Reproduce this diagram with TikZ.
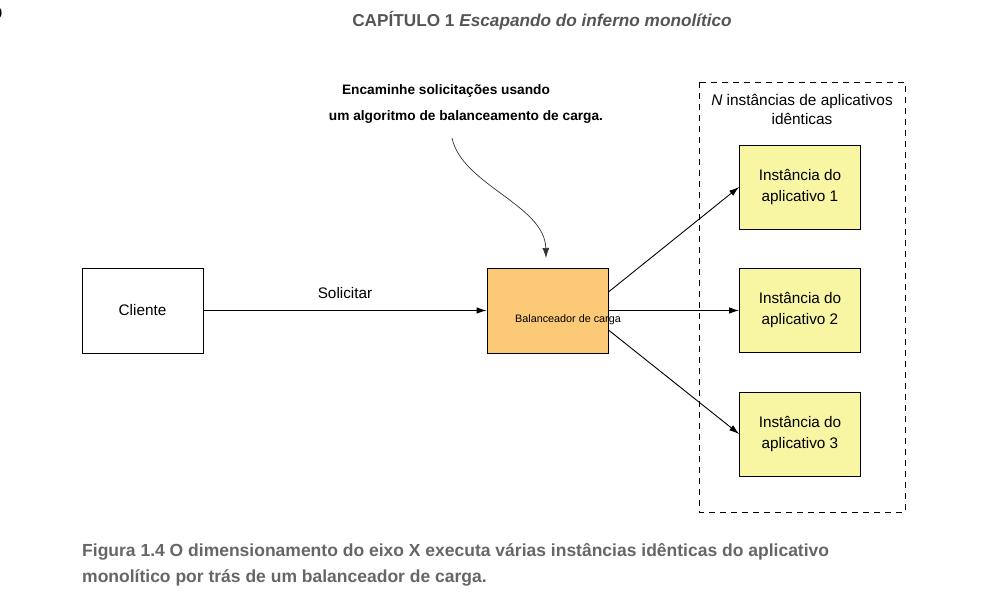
\documentclass[tikz,border=0pt]{standalone}
\usepackage{fontspec}
\setmainfont{Liberation Sans}
\usetikzlibrary{arrows.meta}
\definecolor{lbfill}{HTML}{FCC977}
\definecolor{appfill}{HTML}{F8F5A3}
\definecolor{captxt}{HTML}{666666}
\definecolor{headtxt}{HTML}{555555}
\tikzset{
  box/.style={draw=black, line width=0.9pt, minimum width=121pt, minimum height=85pt, inner sep=0pt, align=center, font=\fontsize{15.3}{21}\selectfont},
  appbox/.style={box, fill=appfill, minimum height=84pt},
  conn/.style={line width=0.9pt, -{Latex[length=10pt,width=6.5pt]}},
  note/.style={font=\fontsize{13.7}{15}\selectfont\bfseries, inner sep=0pt},
  captext/.style={font=\fontsize{17.5}{20}\selectfont\bfseries, text=captxt, inner sep=0pt, anchor=west},
}
\begin{document}
\begin{tikzpicture}[x=1pt,y=-1pt]
\useasboundingbox (0,0) rectangle (999,612);
\node[inner sep=0pt, font=\fontsize{15}{16}\selectfont\bfseries, text=black] (pg) at (-2,13) {0};
\node[inner sep=0pt, font=\fontsize{17.2}{18}\selectfont\bfseries, text=headtxt] (head) at (542,21) {CAPÍTULO 1 \textit{Escapando do inferno monolítico}};

\node[box, fill=white] (cli) at (142.5,310.5) {Cliente};
\node[box, fill=lbfill] (lb) at (547.5,310.5) {};
\node[inner sep=0pt, font=\fontsize{10.8}{12}\selectfont] (lbt) at (568,320) {Balanceador de carga};

\draw[line width=0.9pt, dash pattern=on 6pt off 5pt] (699,82) rectangle (905,512);
\node[inner sep=0pt, align=center, font=\fontsize{15.4}{19}\selectfont] (ntit) at (802,109) {\textit{N} instâncias de aplicativos\\idênticas};

\node[appbox] (a1) at (800,187) {Instância do\\aplicativo 1};
\node[appbox] (a2) at (800,310.5) {Instância do\\aplicativo 2};
\node[appbox] (a3) at (800,434) {Instância do\\aplicativo 3};

\draw[conn] (cli.east) -- node[above=11pt, font=\fontsize{15.3}{16}\selectfont, inner sep=0pt] (sol) {Solicitar} (lb.west);
\draw[conn] (lb.east |- 0,292) -- (a1.west);
\draw[conn] (lb.east) -- (a2.west);
\draw[conn] (lb.east |- 0,330) -- (a3.west);

\node[note] (n1) at (446,91) {Encaminhe solicitações usando};
\node[note] (n2) at (466,117) {um algoritmo de balanceamento de carga.};
\coordinate (ns) at (452,138);
\coordinate (ne) at (546,258);
\draw[line width=0.7pt, draw=black!80, -{Latex[length=10pt,width=7pt]}] (ns) .. controls (462,185) and (545,205) .. (ne);

\node[captext] (c1) at (82,552) {Figura 1.4 O dimensionamento do eixo X executa várias instâncias idênticas do aplicativo};
\node[captext] (c2) at (82,578) {monolítico por trás de um balanceador de carga.};
\end{tikzpicture}
\end{document}
